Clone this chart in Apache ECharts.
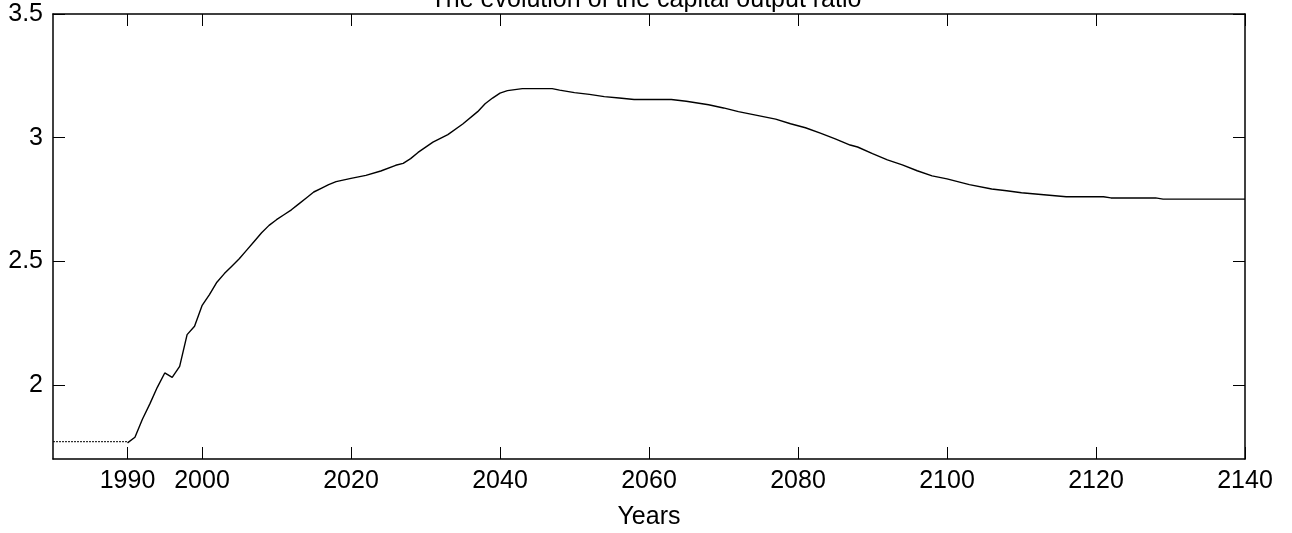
<!DOCTYPE html>
<html>
<head>
<meta charset="utf-8">
<title>The evolution of the capital output ratio</title>
<script src="https://cdn.jsdelivr.net/npm/echarts@6/dist/echarts.min.js"></script>
<style>
  html, body { margin: 0; padding: 0; background: #fff; }
  #chart { width: 1292px; height: 533px; }
</style>
</head>
<body>
<div id="chart"></div>
<script>
// Initial steady state before the transition starts
const baseYears = [1980, 1990];
const baseRatio = [1.770, 1.770];

// Capital-output ratio along the transition path
const years = [
  1990, 1991, 1992, 1993, 1994, 1995, 1996, 1997, 1998, 1999,
  2000, 2001, 2002, 2003, 2004, 2005, 2006, 2007, 2008, 2009,
  2010, 2011, 2012, 2013, 2014, 2015, 2016, 2017, 2018, 2020,
  2022, 2024, 2026, 2027, 2028, 2029, 2031, 2033, 2035, 2037,
  2038, 2039, 2040, 2041, 2043, 2047, 2048, 2050, 2052, 2054,
  2056, 2058, 2063, 2065, 2068, 2070, 2072, 2074, 2077, 2079,
  2081, 2083, 2085, 2087, 2088, 2090, 2092, 2094, 2096, 2098,
  2100, 2103, 2106, 2108, 2110, 2113, 2116, 2121, 2122, 2128,
  2129, 2140
];
const ratio = [
  1.765, 1.788, 1.861, 1.923, 1.990, 2.048, 2.030, 2.075, 2.203, 2.237,
  2.320, 2.365, 2.415, 2.450, 2.480, 2.510, 2.545, 2.580, 2.615, 2.645,
  2.668, 2.688, 2.708, 2.732, 2.756, 2.780, 2.795, 2.810, 2.822, 2.835,
  2.847, 2.865, 2.888, 2.896, 2.915, 2.940, 2.982, 3.012, 3.055, 3.105,
  3.137, 3.160, 3.180, 3.190, 3.198, 3.198, 3.192, 3.182, 3.175, 3.166,
  3.160, 3.154, 3.154, 3.147, 3.133, 3.120, 3.105, 3.093, 3.075, 3.056,
  3.040, 3.018, 2.995, 2.970, 2.962, 2.935, 2.910, 2.890, 2.866, 2.845,
  2.833, 2.810, 2.792, 2.785, 2.777, 2.769, 2.761, 2.761, 2.756, 2.756,
  2.751, 2.751
];

// Tick positions
const xTicks = [1990, 2000, 2020, 2040, 2060, 2080, 2100, 2120, 2140];
const yTicks = [2, 2.5, 3, 3.5];

const FONT = '"Liberation Sans", Arial, Helvetica, sans-serif';
const FONT_SIZE = 25;
const INK = '#000';

function pairs(xs, ys) {
  return xs.map((x, i) => [x, ys[i]]);
}

function xAxisSpec(position, showLabels) {
  return {
    type: 'value',
    position: position,
    min: 1980,
    max: 2140,
    name: showLabels ? 'Years' : '',
    nameLocation: 'middle',
    nameGap: 46,
    nameTextStyle: { color: INK, fontSize: FONT_SIZE, fontFamily: FONT },
    axisLine: { show: true, onZero: false, lineStyle: { color: INK, width: 1.5 } },
    axisTick: { show: true, inside: true, length: 12, customValues: xTicks,
                lineStyle: { color: INK, width: 1 } },
    axisLabel: { show: showLabels, customValues: xTicks, color: INK,
                 fontSize: FONT_SIZE, fontFamily: FONT, margin: 10,
                 formatter: v => String(v) },
    splitLine: { show: false }
  };
}

function yAxisSpec(position, showLabels) {
  return {
    type: 'value',
    position: position,
    min: 1.7,
    max: 3.5,
    axisLine: { show: true, onZero: false, lineStyle: { color: INK, width: 1.5 } },
    axisTick: { show: true, inside: true, length: 12, customValues: yTicks,
                lineStyle: { color: INK, width: 1 } },
    axisLabel: { show: showLabels, customValues: yTicks, color: INK,
                 fontSize: FONT_SIZE, fontFamily: FONT, margin: 10,
                 formatter: v => String(v) },
    splitLine: { show: false }
  };
}

const chart = echarts.init(document.getElementById('chart'), null, { renderer: 'canvas' });

chart.setOption({
  backgroundColor: '#fff',
  animation: false,
  title: {
    text: 'The evolution of the capital output ratio',
    left: 'center',
    top: -17,
    textStyle: { color: INK, fontSize: FONT_SIZE, fontWeight: 'normal', fontFamily: FONT }
  },
  grid: { left: 53, right: 47, top: 14, bottom: 74, outerBoundsMode: 'none' },
  xAxis: [xAxisSpec('bottom', true), xAxisSpec('top', false)],
  yAxis: [yAxisSpec('left', true), yAxisSpec('right', false)],
  series: [
    {
      type: 'line',
      xAxisIndex: 0,
      yAxisIndex: 0,
      data: pairs(baseYears, baseRatio),
      showSymbol: false,
      lineStyle: { color: INK, width: 1, type: [2, 1] }
    },
    {
      type: 'line',
      xAxisIndex: 0,
      yAxisIndex: 0,
      data: pairs(years, ratio),
      showSymbol: false,
      lineStyle: { color: INK, width: 1.4 }
    }
  ]
});
</script>
</body>
</html>
